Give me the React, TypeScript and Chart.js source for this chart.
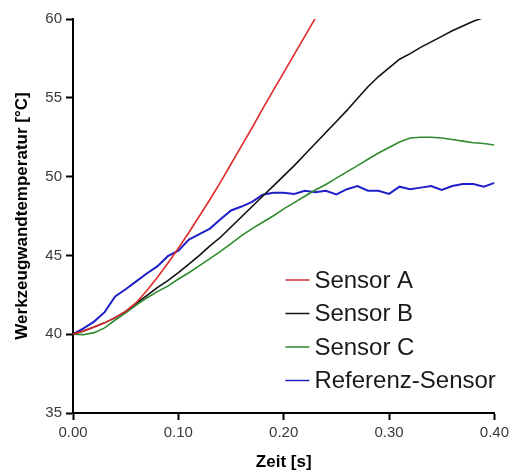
import { useEffect, useRef } from "react";
import { Chart, registerables } from "chart.js";

Chart.register(...registerables);

const timeS = [
  0.0, 0.01, 0.02, 0.03, 0.04, 0.05, 0.06, 0.07, 0.08, 0.09,
  0.1, 0.11, 0.12, 0.13, 0.14, 0.15, 0.16, 0.17, 0.18, 0.19,
  0.2, 0.21, 0.22, 0.23, 0.24, 0.25, 0.26, 0.27, 0.28, 0.29,
  0.3, 0.31, 0.32, 0.33, 0.34, 0.35, 0.36, 0.37, 0.38, 0.39, 0.4,
];

const sensorA = [
  40.0, 40.2, 40.45, 40.72, 41.05, 41.45, 42.0, 42.75, 43.6, 44.5,
  45.45, 46.45, 47.5, 48.55, 49.65, 50.8, 51.95, 53.1, 54.3, 55.45,
  56.6, 57.75, 58.9, 60.05,
];

const sensorB = [
  40.0, 40.2, 40.45, 40.72, 41.05, 41.45, 41.95, 42.45, 42.95, 43.4,
  43.9, 44.45, 45.0, 45.6, 46.15, 46.8, 47.45, 48.1, 48.75, 49.4,
  50.05, 50.7, 51.4, 52.1, 52.8, 53.5, 54.2, 54.95, 55.7, 56.35,
  56.9, 57.45, 57.8, 58.2, 58.55, 58.9, 59.25, 59.55, 59.85, 60.1, 60.35,
];

const sensorC = [
  40.0, 39.97, 40.1, 40.4, 40.9, 41.35, 41.85, 42.3, 42.7, 43.05,
  43.5, 43.9, 44.35, 44.8, 45.25, 45.75, 46.25, 46.7, 47.1, 47.5,
  47.95, 48.35, 48.75, 49.15, 49.5, 49.9, 50.3, 50.7, 51.1, 51.5,
  51.85, 52.2, 52.45, 52.5, 52.5, 52.45, 52.35, 52.25, 52.15, 52.1, 52.0,
];

const referenz = [
  40.0, 40.37, 40.8, 41.4, 42.4, 42.85, 43.35, 43.85, 44.3, 44.95,
  45.3, 46.0, 46.35, 46.7, 47.3, 47.85, 48.1, 48.4, 48.85, 48.98,
  48.98, 48.9, 49.1, 49.0, 49.1, 48.87, 49.2, 49.4, 49.1, 49.1,
  48.9, 49.36, 49.2, 49.3, 49.4, 49.15, 49.4, 49.53, 49.53, 49.36, 49.6,
];

const seriesLabels = ["Sensor A", "Sensor B", "Sensor C", "Referenz-Sensor"];
const seriesValues = [sensorA, sensorB, sensorC, referenz];
const seriesColors = ["#dd2b2b", "#111111", "#2e8b2e", "#2020c8"];
const seriesWidths = [1.6, 1.6, 1.6, 2];

const xTitle = "Zeit [s]";
const yTitle = "Werkzeugwandtemperatur [°C]";

const FONT = "'Liberation Sans', Arial, Helvetica, sans-serif";

const insideLegend = {
  id: "insideLegend",
  afterDatasetsDraw(chart: any) {
    const { ctx, chartArea } = chart;
    const lineX0 = chartArea.right - 209;
    const lineX1 = chartArea.right - 185;
    const textX = chartArea.right - 180;
    const y0 = chartArea.bottom - 133;
    const step = 33.5;
    ctx.save();
    ctx.font = `24px ${FONT}`;
    ctx.textBaseline = "middle";
    ctx.textAlign = "left";
    chart.data.datasets.forEach((ds: any, i: number) => {
      const y = y0 + i * step;
      ctx.strokeStyle = ds.borderColor;
      ctx.lineWidth = 1.5;
      ctx.beginPath();
      ctx.moveTo(lineX0, y);
      ctx.lineTo(lineX1, y);
      ctx.stroke();
      ctx.fillStyle = "#1a1a1a";
      ctx.fillText(ds.label, textX, y + 1);
    });
    ctx.restore();
  },
};

export default function App() {
  const canvasRef = useRef<HTMLCanvasElement | null>(null);

  useEffect(() => {
    document.body.style.margin = "0";
    const canvas = canvasRef.current;
    if (!canvas) return;
    const datasets = seriesValues.map((vals, i) => ({
      label: seriesLabels[i],
      data: vals.map((v, j) => ({ x: timeS[j], y: v })),
      borderColor: seriesColors[i],
      backgroundColor: seriesColors[i],
      borderWidth: seriesWidths[i],
      pointRadius: 0,
      tension: 0,
      fill: false,
    }));
    const chart = new Chart(canvas, {
      type: "line",
      data: { datasets },
      plugins: [insideLegend],
      options: {
        animation: false,
        responsive: false,
        maintainAspectRatio: false,
        layout: { padding: { top: 19, right: 16, left: 0, bottom: 0 } },
        plugins: {
          legend: { display: false },
          tooltip: { enabled: false },
        },
        scales: {
          x: {
            type: "linear",
            min: 0,
            max: 0.4,
            afterFit(scale: any) {
              scale.height = 61;
            },
            ticks: {
              stepSize: 0.1,
              color: "#3a3a3a",
              font: { family: FONT, size: 15 },
              padding: 4,
              maxRotation: 0,
              callback: (v: any) => Number(v).toFixed(2),
            },
            grid: {
              display: true,
              drawOnChartArea: false,
              drawTicks: true,
              tickLength: 7,
              tickColor: "#000000",
              tickWidth: 2,
            },
            border: { display: true, color: "#000000", width: 2 },
            title: {
              display: true,
              text: xTitle,
              color: "#000000",
              font: { family: FONT, size: 17, weight: "bold" },
              padding: { top: 0, bottom: 1 },
            },
          },
          y: {
            type: "linear",
            min: 35,
            max: 60,
            afterFit(scale: any) {
              scale.width = 73;
            },
            ticks: {
              stepSize: 5,
              color: "#3a3a3a",
              font: { family: FONT, size: 15 },
              padding: 4,
            },
            grid: {
              display: true,
              drawOnChartArea: false,
              drawTicks: true,
              tickLength: 7,
              tickColor: "#000000",
              tickWidth: 2,
            },
            border: { display: true, color: "#000000", width: 2 },
            title: {
              display: true,
              text: yTitle,
              color: "#000000",
              font: { family: FONT, size: 17, weight: "bold" },
              padding: { top: 12, bottom: 0 },
            },
          },
        },
      },
    });
    return () => chart.destroy();
  }, []);

  return (
    <div style={{ width: 513, height: 474 }}>
      <canvas ref={canvasRef} width={513} height={474} style={{ display: "block" }} />
    </div>
  );
}
